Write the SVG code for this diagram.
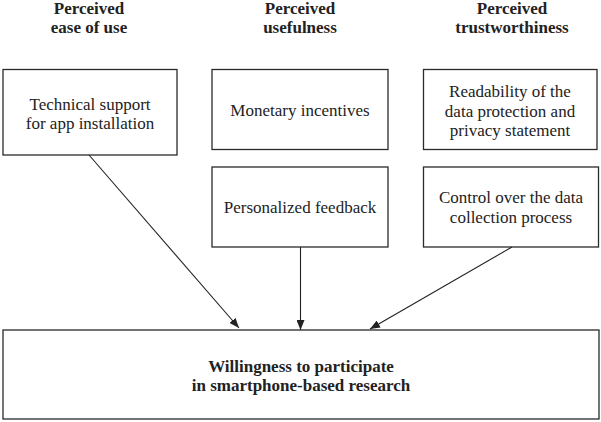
<svg xmlns="http://www.w3.org/2000/svg" width="601" height="422" viewBox="0 0 601 422">
<style>
.box{fill:#fff;stroke:#2a2a2a;stroke-width:1.3}
.t{font-family:"Liberation Serif","Times New Roman",serif;font-size:17px;fill:#222;text-anchor:middle}
.b{font-weight:bold}
.c{stroke:#222;stroke-width:1.1;fill:none}
</style>
<defs>
<marker id="ah" viewBox="0 0 10 8" refX="10" refY="4" markerWidth="10" markerHeight="8" markerUnits="userSpaceOnUse" orient="auto">
<path d="M0,0 L10,4 L0,8 Z" fill="#222"/>
</marker>
</defs>
<g id="h1"><text class="t b" x="89" y="13.5">Perceived</text><text class="t b" x="89" y="33">ease of use</text></g>
<g id="h2"><text class="t b" x="300" y="13.5">Perceived</text><text class="t b" x="300" y="33">usefulness</text></g>
<g id="h3"><text class="t b" x="512" y="13.5">Perceived</text><text class="t b" x="512" y="33">trustworthiness</text></g>
<g id="n1"><rect class="box" x="3" y="69.5" width="174" height="85.5"/><text class="t" x="90" y="110">Technical support</text><text class="t" x="90" y="129">for app installation</text></g>
<g id="n2"><rect class="box" x="212" y="69.5" width="176" height="80"/><text class="t" x="300" y="115.5">Monetary incentives</text></g>
<g id="n3"><rect class="box" x="423.5" y="69.5" width="173.5" height="80"/><text class="t" x="510" y="97">Readability of the</text><text class="t" x="510" y="117">data protection and</text><text class="t" x="510" y="136">privacy statement</text></g>
<g id="n4"><rect class="box" x="212" y="167" width="176" height="80"/><text class="t" x="300" y="213">Personalized feedback</text></g>
<g id="n5"><rect class="box" x="423.5" y="167" width="175" height="80"/><text class="t" x="511" y="203">Control over the data</text><text class="t" x="511" y="223">collection process</text></g>
<g id="n6"><rect class="box" x="3" y="330" width="596" height="89"/><text class="t b" x="301" y="372">Willingness to participate</text><text class="t b" x="301" y="391">in smartphone-based research</text></g>
<g id="connectors">
<line class="c" x1="89" y1="155" x2="239" y2="328" marker-end="url(#ah)"/>
<line class="c" x1="300.5" y1="247" x2="300.5" y2="330" marker-end="url(#ah)"/>
<line class="c" x1="512" y1="247" x2="370" y2="329" marker-end="url(#ah)"/>
</g>
</svg>
